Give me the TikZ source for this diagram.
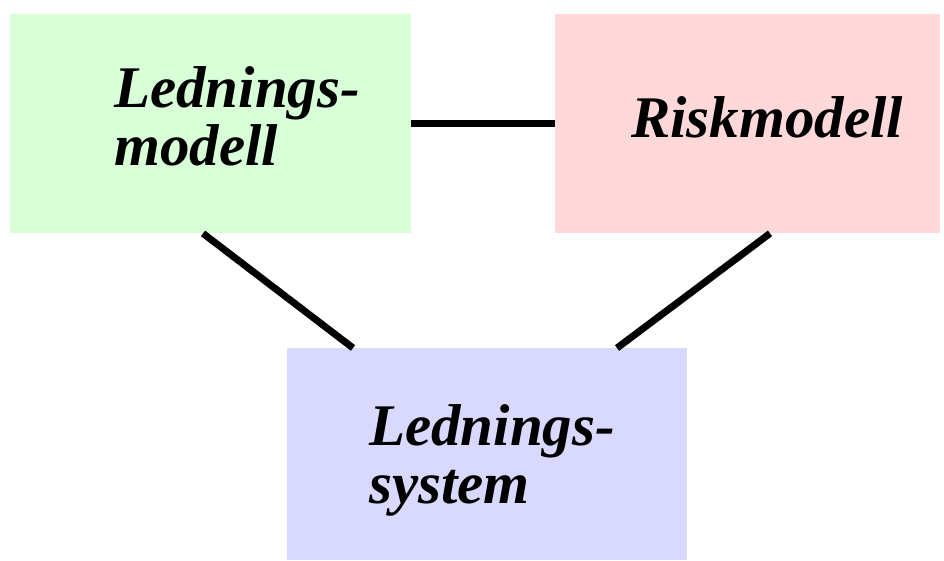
\documentclass[tikz,border=0pt]{standalone}
\usepackage{fontspec}
\setmainfont{Liberation Serif}
\usetikzlibrary{calc}
\definecolor{gbox}{HTML}{D9FFD9}
\definecolor{pbox}{HTML}{FFD9D9}
\definecolor{bbox}{HTML}{D9D9FF}
\begin{document}
\begin{tikzpicture}[x=1pt,y=-1pt,
  box/.style={draw=none,inner sep=0pt,anchor=north west},
  lbl/.style={inner sep=0pt,anchor=base west,font=\fontsize{59}{58}\selectfont\bfseries\itshape,align=left},
  conn/.style={line width=7pt}]
\useasboundingbox (0,0) rectangle (944,561);
\node[box,fill=gbox,minimum width=401pt,minimum height=219pt] (green) at (10,14) {};
\node[box,fill=pbox,minimum width=385pt,minimum height=219pt] (pink) at (555,14) {};
\node[box,fill=bbox,minimum width=400pt,minimum height=212pt] (blue) at (287,348) {};
\node[lbl] (t1) at (114,166) {Lednings-\\modell};
\node[lbl] (t2) at (631,138) {Riskmodell};
\node[lbl] (t3) at (369,503) {Lednings-\\system};
\draw[conn] (green.east) -- (pink.west);
\draw[conn] ($(green.south west)+(193,0)$) -- ($(blue.north west)+(66,0)$);
\draw[conn] ($(pink.south west)+(215,0)$) -- ($(blue.north west)+(330,0)$);
\end{tikzpicture}
\end{document}
